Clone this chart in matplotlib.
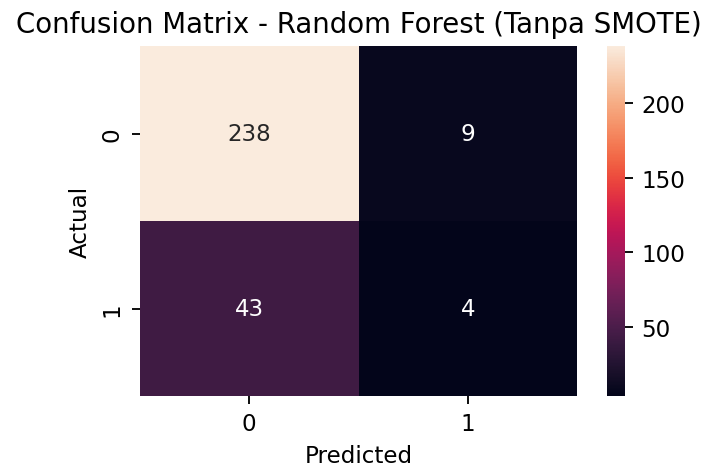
import numpy as np
import matplotlib
matplotlib.use("Agg")
import matplotlib.pyplot as plt
import seaborn as sns

labels = ["0", "1"]
cm = np.array([[238, 9],
               [43, 4]])

DPI = 166
fig = plt.figure(figsize=(709 / DPI, 466 / DPI), dpi=DPI)
ax = fig.add_axes([0.1975, 0.148, 0.6163, 0.751])
cax = fig.add_axes([0.856, 0.148, 0.0255, 0.751])

sns.heatmap(cm, annot=True, fmt="d", cmap="rocket", ax=ax, cbar_ax=cax,
            xticklabels=labels, yticklabels=labels)
cax.tick_params(labelsize=10)
ax.set_xlabel("Predicted")
ax.set_ylabel("Actual")
ax.set_title("Confusion Matrix - Random Forest (Tanpa SMOTE)", fontsize=12)

fig.savefig("out.png", dpi=DPI)
